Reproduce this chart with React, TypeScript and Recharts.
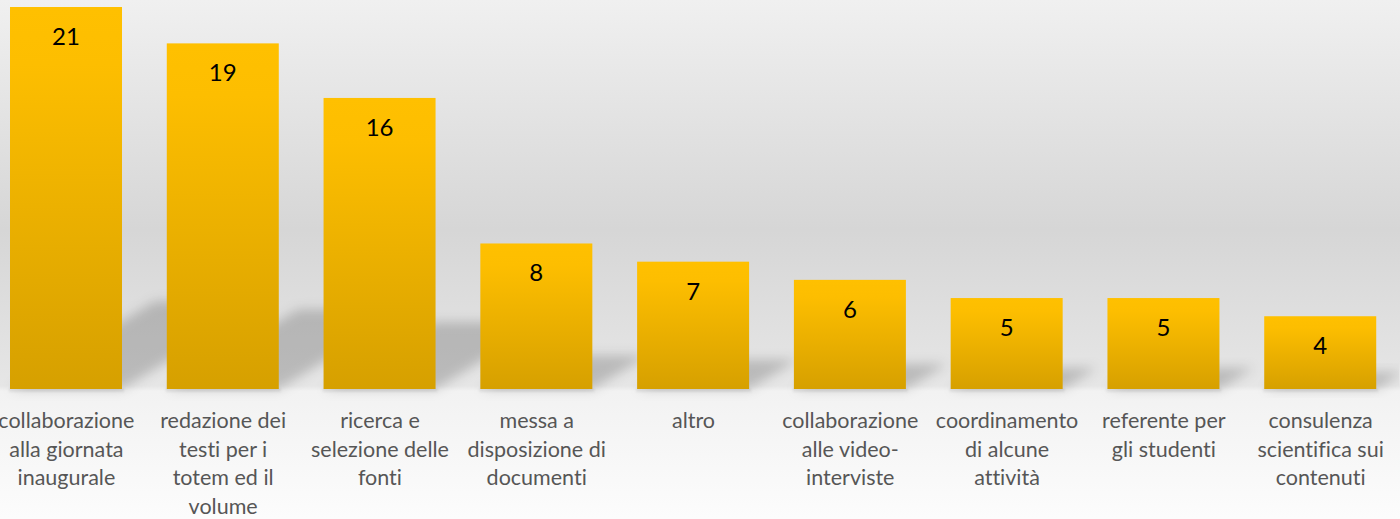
import React from "react";
import { BarChart, Bar, XAxis, YAxis, LabelList } from "recharts";

const categoryLines: string[][] = [
  ["collaborazione", "alla giornata", "inaugurale"],
  ["redazione dei", "testi per i", "totem ed il", "volume"],
  ["ricerca e", "selezione delle", "fonti"],
  ["messa a", "disposizione di", "documenti"],
  ["altro"],
  ["collaborazione", "alle video-", "interviste"],
  ["coordinamento", "di alcune", "attività"],
  ["referente per", "gli studenti"],
  ["consulenza", "scientifica sui", "contenuti"],
];
const categories: string[] = categoryLines.map((l) => l.join(" "));
const values: number[] = [21, 19, 16, 8, 7, 6, 5, 5, 4];

const data = categories.map((c, i) => ({ category: c, value: values[i] }));

const FONT = "Lato, 'Open Sans', sans-serif";

const CategoryTick = (props: any) => {
  const { x, y, payload } = props;
  const idx = categories.indexOf(payload.value);
  const lines = categoryLines[idx] || [String(payload.value)];
  return (
    <g>
      {lines.map((line, i) => (
        <text
          key={i}
          x={x}
          y={y + 39 + i * 28.5}
          textAnchor="middle"
          fontFamily={FONT}
          fontSize={21.5}
          fill="#565656"
          style={{ fontVariantLigatures: "none" }}
        >
          {line}
        </text>
      ))}
    </g>
  );
};

const BarShape = (props: any) => {
  const { x, y, width, height } = props;
  if (height <= 0) return null;
  const x0 = x;
  const x1 = x + width;
  const y0 = y + height;
  const dx = 0.38 * height;
  const dy = 0.23 * height;
  const pts = `${x0},${y0} ${x1},${y0} ${x1 + dx},${y0 - dy} ${x0 + dx},${y0 - dy}`;
  return (
    <g>
      <polygon points={pts} fill="#000" fillOpacity={0.19} filter="url(#shadowBlur)" />
      <rect x={x0 - 1} y={y0 - 1} width={width + 3} height={4} fill="#000" fillOpacity={0.07} filter="url(#smallBlur)" />
      <rect x={x0} y={y} width={width} height={height} fill="url(#barGrad)" />
    </g>
  );
};

const ValueLabel = (props: any) => {
  const { x, y, width, value } = props;
  return (
    <text
      x={x + width / 2}
      y={y + 38}
      textAnchor="middle"
      fontFamily={FONT}
      fontSize={24}
      fill="#000"
    >
      {value}
    </text>
  );
};

export default function App() {
  return (
    <div
      style={{
        position: "absolute",
        left: 0,
        top: 0,
        width: 1400,
        height: 519,
        overflow: "hidden",
        background:
          "linear-gradient(to bottom, #f0f0f0 0px, #d6d6d6 230px, #e6e6e6 386px, #f2f2f2 391px, #fcfcfc 519px)",
      }}
    >
      <style>{`body{margin:0}`}</style>
      <div style={{ position: "absolute", left: -12, top: 0 }}>
        <BarChart
          width={1411}
          height={519}
          data={data}
          margin={{ top: 7, right: 0, bottom: 0, left: 0 }}
          barCategoryGap={0}
        >
          <defs>
            <linearGradient id="barGrad" x1="0" y1="0" x2="0" y2="1">
              <stop offset="0" stopColor="#FFC000" />
              <stop offset="0.15" stopColor="#FDBE00" />
              <stop offset="1" stopColor="#D6A000" />
            </linearGradient>
            <filter id="shadowBlur" x="-50%" y="-50%" width="200%" height="200%">
              <feGaussianBlur stdDeviation="6" />
            </filter>
            <filter id="smallBlur" x="-50%" y="-100%" width="200%" height="300%">
              <feGaussianBlur stdDeviation="1" />
            </filter>
          </defs>
          <XAxis
            dataKey="category"
            axisLine={false}
            tickLine={false}
            tickSize={0}
            tickMargin={0}
            height={130}
            interval={0}
            tick={<CategoryTick />}
          />
          <YAxis hide domain={[0, 21]} />
          <Bar
            dataKey="value"
            barSize={112}
            isAnimationActive={false}
            shape={<BarShape />}
          >
            <LabelList dataKey="value" content={<ValueLabel />} />
          </Bar>
        </BarChart>
      </div>
    </div>
  );
}
